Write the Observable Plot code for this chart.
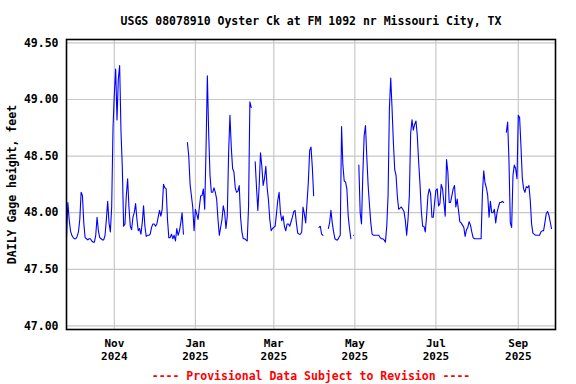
<!DOCTYPE html>
<html><head><meta charset="utf-8">
<script src="https://cdn.jsdelivr.net/npm/d3@7"></script>
<script src="https://cdn.jsdelivr.net/npm/@observablehq/plot@0.6"></script>
<style>body{margin:0;background:#fff} svg{display:block}</style>
</head><body><div id="chart"></div>
<script>
const titleText = "USGS 08078910 Oyster Ck at FM 1092 nr Missouri City, TX";
const yLabel = "DAILY Gage height, feet";
const captionText = "---- Provisional Data Subject to Revision ----";
const startDate = "2024-09-26";
const endDate = "2025-09-29";
// daily gage height, feet (one value per day from startDate; null = no data)
const gageHeight = [
47.78,48.09,47.94,47.84,47.80,47.78,47.77,47.77,47.79,47.83,
47.94,48.18,48.15,47.91,47.78,47.77,47.76,47.77,47.77,47.75,
47.74,47.74,47.80,47.96,47.84,47.78,47.77,47.76,47.76,47.80,
47.94,48.10,47.91,47.83,48.05,48.75,49.05,49.27,48.82,49.18,
49.30,48.72,48.40,47.88,47.90,48.15,48.30,48.05,47.88,47.85,
47.96,48.00,48.08,47.94,47.84,47.86,47.81,47.91,48.06,47.88,
47.79,47.80,47.80,47.81,47.87,47.90,47.90,47.88,47.90,47.96,
48.02,47.97,48.03,48.25,48.22,48.21,47.94,47.78,47.78,47.81,
47.77,47.80,47.75,47.86,47.80,47.84,47.91,48.00,47.81,null,
null,48.62,48.50,48.25,48.15,48.05,47.84,48.03,47.99,47.94,
48.05,48.15,48.15,48.21,48.03,48.56,49.21,48.70,48.33,48.18,
48.18,48.22,48.18,48.12,47.94,47.80,47.87,47.94,48.06,48.00,
47.86,47.97,48.53,48.86,48.58,48.39,48.36,48.22,48.18,48.19,
48.24,47.96,47.83,47.77,47.77,47.76,47.75,48.05,48.98,48.93,
null,null,48.45,48.22,48.02,48.24,48.53,48.41,48.24,48.30,
48.41,48.22,48.11,47.94,47.84,47.86,47.87,47.88,47.99,48.11,
48.18,48.00,47.93,47.97,47.88,47.84,47.90,47.90,47.88,47.92,
47.96,48.01,48.02,47.91,47.82,47.81,47.81,47.83,48.05,47.99,
47.91,48.09,48.27,48.55,48.58,48.40,48.15,null,null,null,
47.87,47.88,47.81,47.80,null,null,null,47.86,47.91,48.02,
47.91,47.83,47.77,47.76,47.76,47.78,47.80,48.76,48.42,48.28,
48.27,48.21,47.97,47.86,47.77,null,47.80,null,null,null,
48.42,48.00,47.90,48.34,48.68,48.77,48.49,48.24,48.07,47.91,
47.81,47.80,47.80,47.80,47.80,47.80,47.78,47.77,47.77,47.76,
47.74,47.88,48.15,48.92,49.19,48.92,48.62,48.38,48.33,48.14,
48.03,48.04,48.05,48.03,48.01,47.93,47.80,47.94,48.15,48.70,
48.82,48.73,48.78,48.81,48.68,48.45,48.26,48.02,47.88,47.88,
47.83,47.97,48.15,48.21,48.17,47.96,47.96,48.09,48.20,48.21,
48.06,48.08,48.25,48.21,48.09,47.97,48.47,48.36,48.09,48.09,
48.15,48.21,48.24,48.05,48.12,48.02,47.92,47.91,47.89,47.87,
47.79,47.85,47.87,47.92,47.89,47.83,47.78,47.77,47.77,47.77,
47.77,47.77,47.77,48.17,48.37,48.26,48.22,48.15,47.96,48.10,
48.00,48.00,48.03,47.91,48.00,48.05,48.09,48.09,48.10,48.09,
null,48.71,48.80,48.45,47.91,47.87,48.33,48.42,48.39,48.30,
48.86,48.84,48.59,48.31,48.21,48.18,48.23,48.22,48.24,48.11,
47.90,47.82,47.81,47.80,47.80,47.80,47.80,47.83,47.84,47.84,
47.91,47.99,48.01,47.98,47.92,47.86
];
const yTicks = [47.0, 47.5, 48.0, 48.5, 49.0, 49.5];
const xTickDates = ["2024-11-01","2025-01-01","2025-03-01","2025-05-01","2025-07-01","2025-09-01"];
const xTickMonths = ["Nov","Jan","Mar","May","Jul","Sep"];
const xTickYears = ["2024","2025","2025","2025","2025","2025"];

const start = new Date(startDate);
const data = gageHeight.map((v, i) => ({date: d3.utcDay.offset(start, i), value: v}));
const xTicks = xTickDates.map(d => new Date(d));
const monthMap = new Map(xTicks.map((d, i) => [+d, xTickMonths[i]]));
const yearMap = new Map(xTicks.map((d, i) => [+d, xTickYears[i]]));
const font = "'DejaVu Sans Mono', monospace";

const chart = Plot.plot({
  width: 576, height: 384,
  marginLeft: 66, marginRight: 21, marginTop: 39, marginBottom: 55,
  style: {fontFamily: font, fontSize: "11.5px", fontWeight: "bold", background: "#fff", color: "#000"},
  x: {type: "utc", domain: [new Date(startDate), new Date(endDate)]},
  y: {domain: [46.968, 49.53]},
  marks: [
    Plot.gridX(xTicks, {stroke: "#c8c8c8", strokeOpacity: 1, strokeWidth: 1.2}),
    Plot.gridY(yTicks, {stroke: "#c8c8c8", strokeOpacity: 1, strokeWidth: 1.2}),
    Plot.lineY(data, {x: "date", y: "value", stroke: "#0000ff", strokeWidth: 1.1}),
    Plot.frame({stroke: "#000", strokeWidth: 1.6}),
    Plot.axisY(yTicks, {tickSize: 0, tickPadding: 8, tickFormat: d => d.toFixed(2), label: null}),
    Plot.axisX(xTicks, {tickSize: 0, tickPadding: 10, fontSize: 11, tickFormat: d => monthMap.get(+d), label: null}),
    Plot.axisX(xTicks, {tickSize: 0, tickPadding: 23, fontSize: 11, tickFormat: d => yearMap.get(+d), label: null}),
    Plot.text([titleText], {text: d => d, frameAnchor: "top", dy: -23, fill: "#000"}),
    Plot.text([yLabel], {text: d => d, frameAnchor: "left", dx: -54, rotate: -90, textAnchor: "middle", fill: "#000"}),
    Plot.text([captionText], {text: d => d, frameAnchor: "bottom", dy: 50, fill: "#ff0000"})
  ]
});
document.getElementById("chart").append(chart);
</script>
</body></html>
